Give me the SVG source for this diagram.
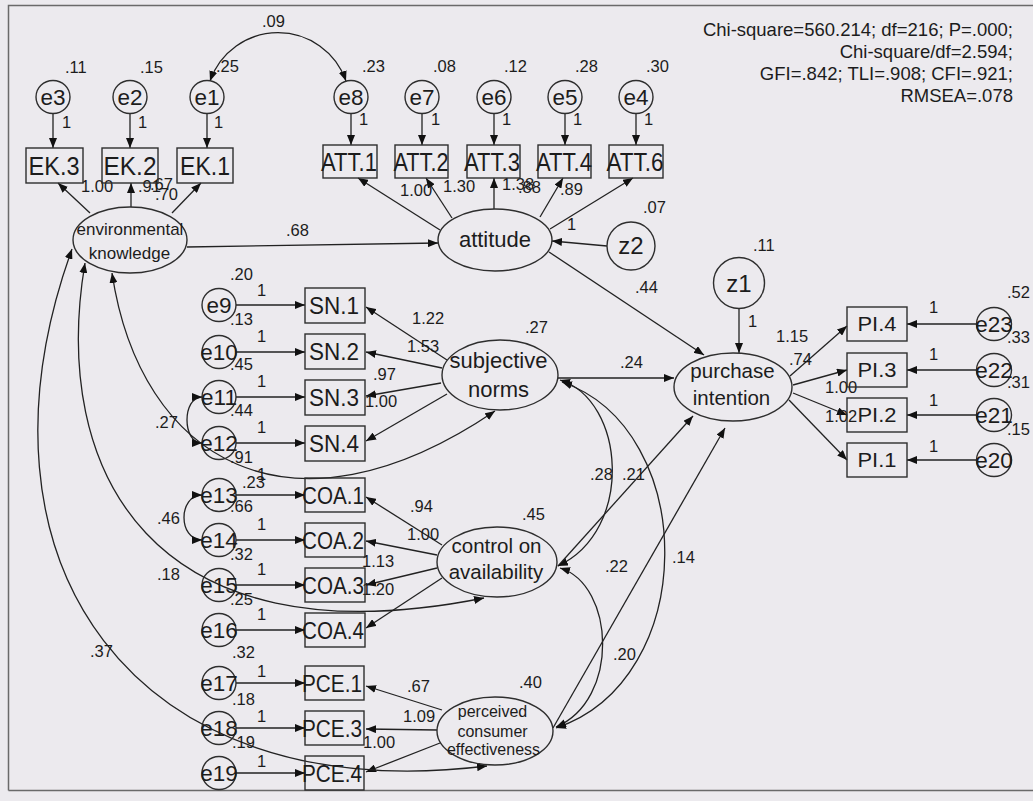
<svg xmlns="http://www.w3.org/2000/svg" width="1033" height="801" viewBox="0 0 1033 801">
<defs>
<marker id="ah" viewBox="0 0 10 8" refX="10" refY="4" markerWidth="10" markerHeight="8" markerUnits="userSpaceOnUse" orient="auto-start-reverse"><path d="M0,0 L10,4 L0,8 z" fill="#111"/></marker>
</defs>
<style>
text{font-family:"Liberation Sans",Arial,sans-serif;fill:#1c1c1c}
.n{font-size:16.5px}
.ct{font-size:22.5px;text-anchor:middle}
.zt{font-size:24px;text-anchor:middle}
.r1{font-size:26px;text-anchor:middle}
.r2{font-size:24.5px;text-anchor:middle}
.r3{font-size:20px;text-anchor:middle}
.sh{fill:none;stroke:#2e2e2e;stroke-width:1.4}
.c{fill:none;stroke:#222;stroke-width:1.3}
.a{marker-end:url(#ah)}
.d{marker-start:url(#ah);marker-end:url(#ah)}
.st{font-size:18.5px;text-anchor:end}
.l17{font-size:17px;text-anchor:middle}
.l20{font-size:20.5px;text-anchor:middle}
.l22{font-size:22px;text-anchor:middle}
.l16{font-size:16px;text-anchor:middle}
</style>
<rect width="1033" height="801" fill="#ECEAEE"/>
<path d="M8.5,790.5 V5.5 H1033 M8.5,790.5 H1033" stroke="#6a6a6a" stroke-width="1.5" fill="none"/>

<g id="fit-stats">
<text class="st" x="1013" y="36">Chi-square=560.214; df=216; P=.000;</text>
<text class="st" x="1013" y="58">Chi-square/df=2.594;</text>
<text class="st" x="1013" y="80">GFI=.842; TLI=.908; CFI=.921;</text>
<text class="st" x="1013" y="101.5">RMSEA=.078</text>
</g>

<g id="connectors">
<path class="c a" d="M53,113.5 V148"/>
<path class="c a" d="M130,113.5 V148"/>
<path class="c a" d="M207,113.5 V148"/>
<path class="c a" d="M351,113.5 V145"/>
<path class="c a" d="M422,113.5 V145"/>
<path class="c a" d="M494,113.5 V145"/>
<path class="c a" d="M565,113.5 V145"/>
<path class="c a" d="M636,113.5 V145"/>
<path class="c a" d="M90,213 L58,183"/>
<path class="c a" d="M131,207 L131,183"/>
<path class="c a" d="M172,213 L201,183"/>
<path class="c a" d="M440,230 L358,178"/>
<path class="c a" d="M452,218 L426,178"/>
<path class="c a" d="M494,209 L494,178"/>
<path class="c a" d="M540,217 L563,178"/>
<path class="c a" d="M550,229 L633,178"/>
<path class="c a" d="M187,247 L438,243"/>
<path class="c a" d="M607,246 L552,241"/>
<path class="c a" d="M549,252 L704,355"/>
<path class="c a" d="M739,308 V353"/>
<path class="c a" d="M558,378 L674,378"/>
<path class="c a" d="M558,566 L693,416"/>
<path class="c a" d="M553,728 L725,428"/>
<path class="c a" d="M790,376 L847,326"/>
<path class="c a" d="M793,385 L847,370"/>
<path class="c a" d="M793,393 L847,415"/>
<path class="c a" d="M789,400 L847,460"/>
<path class="c a" d="M977,324 H907"/>
<path class="c a" d="M977,370 H907"/>
<path class="c a" d="M977,415 H907"/>
<path class="c a" d="M977,460 H907"/>
<path class="c a" d="M236,305 H305"/>
<path class="c a" d="M236,352 H305"/>
<path class="c a" d="M236,397 H305"/>
<path class="c a" d="M236,443 H305"/>
<path class="c a" d="M236,495 H305"/>
<path class="c a" d="M236,540 H305"/>
<path class="c a" d="M236,585 H305"/>
<path class="c a" d="M236,630 H305"/>
<path class="c a" d="M236,683 H305"/>
<path class="c a" d="M236,728 H305"/>
<path class="c a" d="M236,773 H305"/>
<path class="c a" d="M447,360 L366,307"/>
<path class="c a" d="M442,368 L366,352"/>
<path class="c a" d="M441,383 L366,396"/>
<path class="c a" d="M447,394 L366,441"/>
<path class="c a" d="M442,545 L366,497"/>
<path class="c a" d="M437,555 L366,541"/>
<path class="c a" d="M437,568 L366,585"/>
<path class="c a" d="M442,578 L366,628"/>
<path class="c a" d="M442,710 L366,686"/>
<path class="c a" d="M437,730 L366,729"/>
<path class="c a" d="M440,743 L366,772"/>
<path class="c d" d="M210,81 A72,72 0 0 1 346,81"/>
<path class="c d" d="M202,397 C182,397 182,443 202,443"/>
<path class="c d" d="M202,495 C178,495 178,540 202,540"/>
<path class="c d" d="M112,273 C140,460 290,550 495,411"/>
<path class="c d" d="M85,263 C50,470 150,665 484,598"/>
<path class="c d" d="M72,249 C-40,560 130,810 487,766"/>
<path class="c d" d="M560,380 C625,400 635,530 558,566"/>
<path class="c d" d="M562,382 C700,430 700,680 556,728"/>
<path class="c d" d="M560,568 C615,585 620,700 556,727"/>
</g>

<g id="path-labels" class="n">
<text x="262" y="27">.09</text>
<text x="65" y="73">.11</text>
<text x="140" y="73">.15</text>
<text x="216" y="72">.25</text>
<text x="362" y="72">.23</text>
<text x="433" y="72">.08</text>
<text x="504" y="72">.12</text>
<text x="575" y="72">.28</text>
<text x="646" y="72">.30</text>
<text x="62" y="128">1</text>
<text x="138" y="128">1</text>
<text x="214" y="128">1</text>
<text x="359" y="125">1</text>
<text x="431" y="125">1</text>
<text x="502" y="125">1</text>
<text x="573" y="125">1</text>
<text x="644" y="125">1</text>
<text x="81" y="192">1.00</text>
<text x="138" y="192">.91</text>
<text x="150" y="190">.67</text>
<text x="155" y="200">.70</text>
<text x="286" y="236">.68</text>
<text x="400" y="196">1.00</text>
<text x="443" y="192">1.30</text>
<text x="502" y="190">1.38</text>
<text x="518" y="193">.88</text>
<text x="560" y="195">.89</text>
<text x="643" y="213">.07</text>
<text x="567" y="230">1</text>
<text x="635" y="293">.44</text>
<text x="753" y="251">.11</text>
<text x="748" y="327">1</text>
<text x="525" y="333">.27</text>
<text x="412" y="324">1.22</text>
<text x="407" y="352">1.53</text>
<text x="373" y="380">.97</text>
<text x="365" y="407">1.00</text>
<text x="620" y="368">.24</text>
<text x="776" y="342">1.15</text>
<text x="789" y="365">.74</text>
<text x="825" y="393">1.00</text>
<text x="825" y="422">1.02</text>
<text x="929" y="313">1</text>
<text x="929" y="360">1</text>
<text x="929" y="406">1</text>
<text x="929" y="452">1</text>
<text x="1007" y="298">.52</text>
<text x="1007" y="343">.33</text>
<text x="1007" y="388">.31</text>
<text x="1007" y="435">.15</text>
<text x="230" y="280">.20</text>
<text x="257" y="296">1</text>
<text x="230" y="325">.13</text>
<text x="257" y="342">1</text>
<text x="230" y="370">.45</text>
<text x="257" y="387">1</text>
<text x="230" y="416">.44</text>
<text x="257" y="433">1</text>
<text x="230" y="463">.91</text>
<text x="257" y="480">1</text>
<text x="242" y="488">.23</text>
<text x="230" y="512">.66</text>
<text x="257" y="530">1</text>
<text x="230" y="560">.32</text>
<text x="257" y="575">1</text>
<text x="230" y="605">.25</text>
<text x="257" y="620">1</text>
<text x="232" y="658">.32</text>
<text x="257" y="677">1</text>
<text x="232" y="705">.18</text>
<text x="257" y="722">1</text>
<text x="232" y="748">.19</text>
<text x="257" y="767">1</text>
<text x="155" y="428">.27</text>
<text x="157" y="524">.46</text>
<text x="157" y="580">.18</text>
<text x="90" y="657">.37</text>
<text x="590" y="480">.28</text>
<text x="622" y="480">.21</text>
<text x="522" y="520">.45</text>
<text x="410" y="512">.94</text>
<text x="407" y="540">1.00</text>
<text x="362" y="567">1.13</text>
<text x="362" y="595">1.20</text>
<text x="605" y="572">.22</text>
<text x="672" y="563">.14</text>
<text x="613" y="660">.20</text>
<text x="519" y="688">.40</text>
<text x="407" y="692">.67</text>
<text x="403" y="722">1.09</text>
<text x="363" y="748">1.00</text>
</g>

<g id="e3"><ellipse class="sh" cx="53" cy="97" rx="17" ry="16.5"/><text class="ct" x="53" y="105">e3</text></g>
<g id="e2"><ellipse class="sh" cx="130" cy="97" rx="17" ry="16.5"/><text class="ct" x="130" y="105">e2</text></g>
<g id="e1"><ellipse class="sh" cx="207" cy="97" rx="17" ry="16.5"/><text class="ct" x="207" y="105">e1</text></g>
<g id="e8"><ellipse class="sh" cx="351" cy="97" rx="17" ry="16.5"/><text class="ct" x="351" y="105">e8</text></g>
<g id="e7"><ellipse class="sh" cx="422" cy="97" rx="17" ry="16.5"/><text class="ct" x="422" y="105">e7</text></g>
<g id="e6"><ellipse class="sh" cx="494" cy="97" rx="17" ry="16.5"/><text class="ct" x="494" y="105">e6</text></g>
<g id="e5"><ellipse class="sh" cx="565" cy="97" rx="17" ry="16.5"/><text class="ct" x="565" y="105">e5</text></g>
<g id="e4"><ellipse class="sh" cx="636" cy="97" rx="17" ry="16.5"/><text class="ct" x="636" y="105">e4</text></g>

<g id="EK3"><rect class="sh" x="26" y="148" width="57" height="35"/><text class="r1" x="54" y="175" textLength="51" lengthAdjust="spacingAndGlyphs">EK.3</text></g>
<g id="EK2"><rect class="sh" x="102" y="148" width="56" height="35"/><text class="r1" x="130" y="175" textLength="53" lengthAdjust="spacingAndGlyphs">EK.2</text></g>
<g id="EK1"><rect class="sh" x="177" y="148" width="56" height="35"/><text class="r1" x="205" y="175" textLength="50" lengthAdjust="spacingAndGlyphs">EK.1</text></g>
<g id="ATT1"><rect class="sh" x="323" y="145" width="54" height="33"/><text class="r1" x="349" y="171" textLength="56" lengthAdjust="spacingAndGlyphs">ATT.1</text></g>
<g id="ATT2"><rect class="sh" x="395" y="145" width="53" height="33"/><text class="r1" x="421" y="171" textLength="55" lengthAdjust="spacingAndGlyphs">ATT.2</text></g>
<g id="ATT3"><rect class="sh" x="467" y="145" width="53" height="33"/><text class="r1" x="492" y="171" textLength="56" lengthAdjust="spacingAndGlyphs">ATT.3</text></g>
<g id="ATT4"><rect class="sh" x="538" y="145" width="53" height="33"/><text class="r1" x="564" y="171" textLength="56" lengthAdjust="spacingAndGlyphs">ATT.4</text></g>
<g id="ATT6"><rect class="sh" x="609" y="145" width="54" height="33"/><text class="r1" x="635" y="171" textLength="57" lengthAdjust="spacingAndGlyphs">ATT.6</text></g>

<g id="environmental-knowledge"><ellipse class="sh" cx="130" cy="240" rx="57" ry="33"/><text class="l17" x="130" y="235">environmental</text><text class="l17" x="129.5" y="259">knowledge</text></g>
<g id="attitude"><ellipse class="sh" cx="495" cy="240" rx="57" ry="31"/><text class="l22" x="495" y="247">attitude</text></g>
<g id="z2"><circle class="sh" cx="631" cy="246" r="24"/><text class="zt" x="631" y="254">z2</text></g>
<g id="z1"><circle class="sh" cx="739" cy="283" r="25.5"/><text class="zt" x="739" y="292">z1</text></g>
<g id="subjective-norms"><ellipse class="sh" cx="500" cy="375" rx="58" ry="35"/><text class="l22" x="498.5" y="368">subjective</text><text class="l22" x="498.5" y="397">norms</text></g>
<g id="purchase-intention"><ellipse class="sh" cx="733" cy="387" rx="59" ry="34"/><text class="l20" x="732.5" y="378">purchase</text><text class="l20" x="731.5" y="405">intention</text></g>
<g id="control-on-availability"><ellipse class="sh" cx="497" cy="562" rx="60" ry="35"/><text class="l20" x="496.5" y="553">control on</text><text class="l20" x="496" y="579">availability</text></g>
<g id="perceived-consumer-effectiveness"><ellipse class="sh" cx="495" cy="731" rx="58" ry="34"/><text class="l16" x="492.5" y="717">perceived</text><text class="l16" x="492.5" y="737">consumer</text><text class="l16" x="493.5" y="755">effectiveness</text></g>

<g id="SN1"><rect class="sh" x="305" y="288" width="60" height="35"/><text class="r2" x="334" y="314" textLength="50" lengthAdjust="spacingAndGlyphs">SN.1</text></g>
<g id="SN2"><rect class="sh" x="305" y="334" width="60" height="35"/><text class="r2" x="334" y="360" textLength="50" lengthAdjust="spacingAndGlyphs">SN.2</text></g>
<g id="SN3"><rect class="sh" x="305" y="380" width="60" height="35"/><text class="r2" x="334" y="406" textLength="50" lengthAdjust="spacingAndGlyphs">SN.3</text></g>
<g id="SN4"><rect class="sh" x="305" y="426" width="60" height="35"/><text class="r2" x="334" y="452" textLength="50" lengthAdjust="spacingAndGlyphs">SN.4</text></g>
<g id="COA1"><rect class="sh" x="305" y="478" width="60" height="34"/><text class="r2" x="333" y="503.5" textLength="62" lengthAdjust="spacingAndGlyphs">COA.1</text></g>
<g id="COA2"><rect class="sh" x="305" y="523" width="60" height="34"/><text class="r2" x="333" y="548.5" textLength="62" lengthAdjust="spacingAndGlyphs">COA.2</text></g>
<g id="COA3"><rect class="sh" x="305" y="568" width="60" height="34"/><text class="r2" x="333" y="593.5" textLength="62" lengthAdjust="spacingAndGlyphs">COA.3</text></g>
<g id="COA4"><rect class="sh" x="305" y="613" width="60" height="34"/><text class="r2" x="333" y="638.5" textLength="62" lengthAdjust="spacingAndGlyphs">COA.4</text></g>
<g id="PCE1"><rect class="sh" x="305" y="666" width="59" height="34"/><text class="r2" x="332" y="692" textLength="60" lengthAdjust="spacingAndGlyphs">PCE.1</text></g>
<g id="PCE3"><rect class="sh" x="305" y="711" width="59" height="34"/><text class="r2" x="332" y="737" textLength="60" lengthAdjust="spacingAndGlyphs">PCE.3</text></g>
<g id="PCE4"><rect class="sh" x="305" y="756" width="59" height="34"/><text class="r2" x="332" y="782" textLength="60" lengthAdjust="spacingAndGlyphs">PCE.4</text></g>

<g id="PI4"><rect class="sh" x="847" y="307" width="60" height="34"/><text class="r3" x="877" y="331" textLength="39" lengthAdjust="spacingAndGlyphs">PI.4</text></g>
<g id="PI3"><rect class="sh" x="847" y="353" width="60" height="34"/><text class="r3" x="877" y="377" textLength="39" lengthAdjust="spacingAndGlyphs">PI.3</text></g>
<g id="PI2"><rect class="sh" x="847" y="398" width="60" height="34"/><text class="r3" x="877" y="422" textLength="39" lengthAdjust="spacingAndGlyphs">PI.2</text></g>
<g id="PI1"><rect class="sh" x="847" y="443" width="60" height="34"/><text class="r3" x="877" y="467" textLength="39" lengthAdjust="spacingAndGlyphs">PI.1</text></g>

<g id="e23"><ellipse class="sh" cx="994" cy="324" rx="17.5" ry="16.5"/><text class="ct" x="994" y="332">e23</text></g>
<g id="e22"><ellipse class="sh" cx="994" cy="370" rx="17.5" ry="16.5"/><text class="ct" x="994" y="378">e22</text></g>
<g id="e21"><ellipse class="sh" cx="994" cy="415" rx="17.5" ry="16.5"/><text class="ct" x="994" y="423">e21</text></g>
<g id="e20"><ellipse class="sh" cx="994" cy="460" rx="17.5" ry="16.5"/><text class="ct" x="994" y="468">e20</text></g>

<g id="e9"><ellipse class="sh" cx="219" cy="305" rx="17" ry="16.5"/><text class="ct" x="219" y="313">e9</text></g>
<g id="e10"><ellipse class="sh" cx="219" cy="352" rx="17" ry="16.5"/><text class="ct" x="219" y="360">e10</text></g>
<g id="e11"><ellipse class="sh" cx="219" cy="397" rx="17" ry="16.5"/><text class="ct" x="219" y="405">e11</text></g>
<g id="e12"><ellipse class="sh" cx="219" cy="443" rx="17" ry="16.5"/><text class="ct" x="219" y="451">e12</text></g>
<g id="e13"><ellipse class="sh" cx="219" cy="495" rx="17" ry="16.5"/><text class="ct" x="219" y="503">e13</text></g>
<g id="e14"><ellipse class="sh" cx="219" cy="540" rx="17" ry="16.5"/><text class="ct" x="219" y="548">e14</text></g>
<g id="e15"><ellipse class="sh" cx="219" cy="585" rx="17" ry="16.5"/><text class="ct" x="219" y="593">e15</text></g>
<g id="e16"><ellipse class="sh" cx="219" cy="630" rx="17" ry="16.5"/><text class="ct" x="219" y="638">e16</text></g>
<g id="e17"><ellipse class="sh" cx="219" cy="683" rx="17" ry="16.5"/><text class="ct" x="219" y="691">e17</text></g>
<g id="e18"><ellipse class="sh" cx="219" cy="728" rx="17" ry="16.5"/><text class="ct" x="219" y="736">e18</text></g>
<g id="e19"><ellipse class="sh" cx="219" cy="773" rx="17" ry="16.5"/><text class="ct" x="219" y="781">e19</text></g>
</svg>
